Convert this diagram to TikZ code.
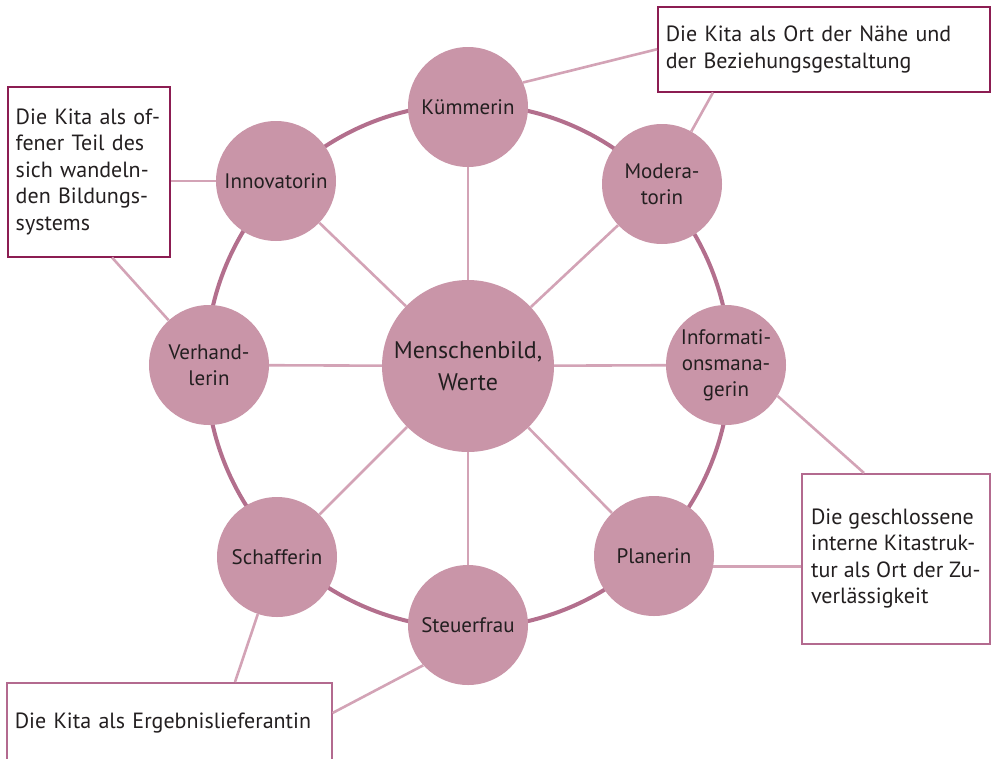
\documentclass[tikz,border=0pt]{standalone}
\usepackage{fontspec}
\setmainfont{PT Sans}
\usetikzlibrary{positioning, backgrounds}
\definecolor{rolefill}{HTML}{C995A8}
\definecolor{ringline}{HTML}{B36F8D}
\definecolor{spokeline}{HTML}{D3A3B6}
\definecolor{boxdark}{HTML}{8C1D52}
\definecolor{boxlight}{HTML}{B36A8F}
\definecolor{txt}{HTML}{231F20}
\tikzstyle{role} = [circle, fill=rolefill, minimum size=120pt, inner sep=0pt, align=center, text=txt, font=\fontsize{21}{26}\selectfont]
\tikzstyle{core} = [role, minimum size=172pt, font=\fontsize{24}{32}\selectfont]
\tikzstyle{field} = [rectangle, draw=boxdark, line width=1.5pt, fill=white, align=left, inner xsep=8pt, inner ysep=0pt, text=txt, anchor=north west, font=\fontsize{22}{26.5}\selectfont]
\tikzstyle{spoke} = [draw=spokeline, line width=2.6pt]
\tikzstyle{ring} = [draw=ringline, line width=4pt]

\begin{document}
\begin{tikzpicture}[x=1pt, y=-1pt]
\useasboundingbox (0,0) rectangle (995,758);

% centre and roles
\node (core) [core] at (468,366) {Menschenbild,\\Werte};
\node (kuemmerin) [role] at (468,107) {Kümmerin};
\node (moderatorin) [role] at (662,184) {Modera-\\torin};
\node (infomanagerin) [role] at (726,365) {Informati-\\onsmana-\\gerin};
\node (planerin) [role] at (654,556) {Planerin};
\node (steuerfrau) [role] at (468,625) {Steuerfrau};
\node (schafferin) [role] at (277,557) {Schafferin};
\node (verhandlerin) [role] at (209,365) {Verhand-\\lerin};
\node (innovatorin) [role] at (276,181) {Innovatorin};

% fields
\node (naehe) [field, text width=316pt, minimum height=85pt] at (657,6) {Die Kita als Ort der Nähe und\\der Beziehungsgestaltung};
\node (offen) [field, text width=146pt, minimum height=170pt] at (7,86) {Die Kita als of-\\fener Teil des\\sich wandeln-\\den Bildungs-\\systems};
\node (zuverl) [field, draw=boxlight, minimum width=188pt, minimum height=170pt] at (801,473) {Die geschlossene\\interne Kitastruk-\\tur als Ort der Zu-\\verlässigkeit};
\node (ergebnis) [field, draw=boxlight, text width=309pt, minimum height=80pt] at (6,682) {Die Kita als Ergebnislieferantin};

\begin{scope}[on background layer]
\draw [ring] (core.center) circle [radius=262pt];
\end{scope}

\foreach \r in {kuemmerin, moderatorin, infomanagerin, planerin, steuerfrau, schafferin, verhandlerin, innovatorin}
  \draw [spoke] (core) -- (\r);

\draw [spoke] (kuemmerin.24) -- (naehe.west);
\draw [spoke] (moderatorin) -- ([xshift=56pt]naehe.south west);
\draw [spoke] (innovatorin) -- (innovatorin -| offen.east);
\draw [spoke] (verhandlerin) -- ([xshift=105pt]offen.south west);
\draw [spoke] (infomanagerin.-31) -- ([xshift=63pt]zuverl.north west);
\draw [spoke] (planerin.-10) -- (planerin.-10 -| zuverl.west);
\draw [spoke] (schafferin) -- ([xshift=229pt]ergebnis.north west);
\draw [spoke] (steuerfrau.222) -- ([yshift=-31pt]ergebnis.north east);

\end{tikzpicture}
\end{document}
